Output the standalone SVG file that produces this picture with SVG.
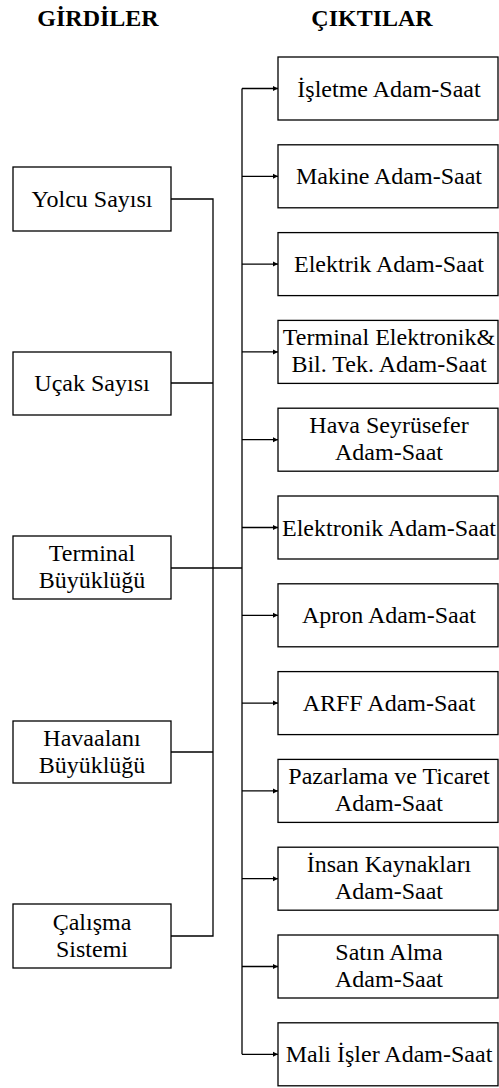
<svg xmlns="http://www.w3.org/2000/svg" width="499" height="1088" viewBox="0 0 499 1088">
<style>
.box{fill:#fff;stroke:#000;stroke-width:1.3}
text{font-family:'Liberation Serif','Times New Roman',serif}
.t{font-size:24px;fill:#000;text-anchor:middle}
.h{font-size:24px;font-weight:bold;fill:#000;text-anchor:middle}
.c{fill:none;stroke:#000;stroke-width:1.3}
</style>
<defs>
<marker id="ah" markerWidth="6" markerHeight="6" refX="5" refY="3" orient="auto" markerUnits="userSpaceOnUse">
<path d="M0,0.5 L5,3 L0,5.5 Z" fill="#000"/>
</marker>
</defs>
<rect width="499" height="1088" fill="#fff"/>
<text class="h" x="98" y="26">GİRDİLER</text>
<text class="h" x="372" y="26">ÇIKTILAR</text>
<g id="connectors">
<path class="c" d="M171,199 H213 V936 H171"/>
<path class="c" d="M171,383 H213"/>
<path class="c" d="M171,568 H242"/>
<path class="c" d="M171,752 H213"/>
<path class="c" d="M242,88.5 V1054.3"/>
<path class="c" marker-end="url(#ah)" d="M242,88.5 H278"/>
<path class="c" marker-end="url(#ah)" d="M242,176.3 H278"/>
<path class="c" marker-end="url(#ah)" d="M242,264.1 H278"/>
<path class="c" marker-end="url(#ah)" d="M242,351.9 H278"/>
<path class="c" marker-end="url(#ah)" d="M242,439.7 H278"/>
<path class="c" marker-end="url(#ah)" d="M242,527.5 H278"/>
<path class="c" marker-end="url(#ah)" d="M242,615.3 H278"/>
<path class="c" marker-end="url(#ah)" d="M242,703.1 H278"/>
<path class="c" marker-end="url(#ah)" d="M242,790.9 H278"/>
<path class="c" marker-end="url(#ah)" d="M242,878.7 H278"/>
<path class="c" marker-end="url(#ah)" d="M242,966.5 H278"/>
<path class="c" marker-end="url(#ah)" d="M242,1054.3 H278"/>
</g>
<g id="in1"><rect class="box" x="13" y="167" width="158" height="64"/><text class="t" x="92" y="207">Yolcu Sayısı</text></g>
<g id="in2"><rect class="box" x="13" y="352" width="158" height="63"/><text class="t" x="92" y="391">Uçak Sayısı</text></g>
<g id="in3"><rect class="box" x="13" y="536" width="158" height="63"/><text class="t" x="92" y="561">Terminal</text><text class="t" x="92" y="588">Büyüklüğü</text></g>
<g id="in4"><rect class="box" x="13" y="721" width="158" height="62"/><text class="t" x="92" y="745.5">Havaalanı</text><text class="t" x="92" y="772.5">Büyüklüğü</text></g>
<g id="in5"><rect class="box" x="13" y="904" width="158" height="64"/><text class="t" x="92" y="929.5">Çalışma</text><text class="t" x="92" y="956.5">Sistemi</text></g>
<g id="out1"><rect class="box" x="278" y="57" width="220" height="63"/><text class="t" x="389" y="96.5">İşletme Adam-Saat</text></g>
<g id="out2"><rect class="box" x="278" y="144.8" width="220" height="63"/><text class="t" x="389" y="184.3">Makine Adam-Saat</text></g>
<g id="out3"><rect class="box" x="278" y="232.6" width="220" height="63"/><text class="t" x="389" y="272.1">Elektrik Adam-Saat</text></g>
<g id="out4"><rect class="box" x="278" y="320.4" width="220" height="63"/><text class="t" x="389" y="345.4">Terminal Elektronik&amp;</text><text class="t" x="389" y="372.4">Bil. Tek. Adam-Saat</text></g>
<g id="out5"><rect class="box" x="278" y="408.2" width="220" height="63"/><text class="t" x="389" y="433.2">Hava Seyrüsefer</text><text class="t" x="389" y="460.2">Adam-Saat</text></g>
<g id="out6"><rect class="box" x="278" y="496" width="220" height="63"/><text class="t" x="389" y="535.5">Elektronik Adam-Saat</text></g>
<g id="out7"><rect class="box" x="278" y="583.8" width="220" height="63"/><text class="t" x="389" y="623.3">Apron Adam-Saat</text></g>
<g id="out8"><rect class="box" x="278" y="671.6" width="220" height="63"/><text class="t" x="389" y="711.1">ARFF Adam-Saat</text></g>
<g id="out9"><rect class="box" x="278" y="759.4" width="220" height="63"/><text class="t" x="389" y="784.4">Pazarlama ve Ticaret</text><text class="t" x="389" y="811.4">Adam-Saat</text></g>
<g id="out10"><rect class="box" x="278" y="847.2" width="220" height="63"/><text class="t" x="389" y="872.2">İnsan Kaynakları</text><text class="t" x="389" y="899.2">Adam-Saat</text></g>
<g id="out11"><rect class="box" x="278" y="935" width="220" height="63"/><text class="t" x="389" y="960">Satın Alma</text><text class="t" x="389" y="987">Adam-Saat</text></g>
<g id="out12"><rect class="box" x="278" y="1022.8" width="220" height="63"/><text class="t" x="389" y="1062.3">Mali İşler Adam-Saat</text></g>
</svg>
